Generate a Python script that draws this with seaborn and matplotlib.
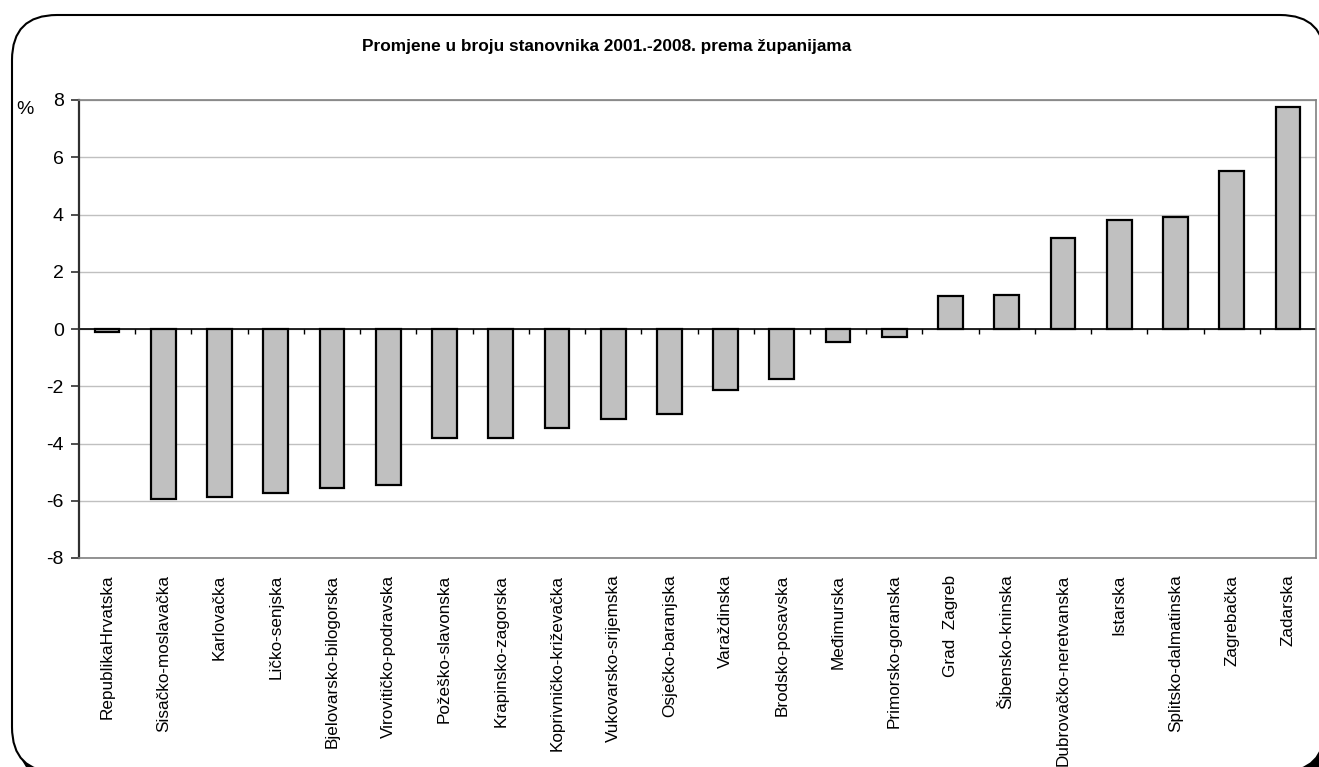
import numpy as np
import pandas as pd
import seaborn as sns
import matplotlib.pyplot as plt
from matplotlib.patches import FancyBboxPatch
from matplotlib.transforms import IdentityTransform

zupanije = ["RepublikaHrvatska", "Sisačko-moslavačka", "Karlovačka", "Ličko-senjska",
            "Bjelovarsko-bilogorska", "Virovitičko-podravska", "Požeško-slavonska",
            "Krapinsko-zagorska", "Koprivničko-križevačka", "Vukovarsko-srijemska",
            "Osječko-baranjska", "Varaždinska", "Brodsko-posavska", "Međimurska",
            "Primorsko-goranska", "Grad  Zagreb", "Šibensko-kninska",
            "Dubrovačko-neretvanska", "Istarska", "Splitsko-dalmatinska",
            "Zagrebačka", "Zadarska"]
promjena = [-0.1, -5.95, -5.87, -5.73, -5.56, -5.45, -3.81, -3.81, -3.46, -3.15,
            -2.97, -2.13, -1.75, -0.45, -0.27, 1.15, 1.2, 3.18, 3.81, 3.93, 5.52, 7.74]
y_ticks = [-8, -6, -4, -2, 0, 2, 4, 6, 8]

df = pd.DataFrame({"zupanija": zupanije, "promjena": promjena})

sns.set_style("white")
plt.rcParams['font.family'] = ['Liberation Sans', 'DejaVu Sans']
plt.rcParams['text.color'] = 'black'
plt.rcParams['xtick.color'] = 'black'
plt.rcParams['ytick.color'] = 'black'
plt.rcParams['axes.unicode_minus'] = False

fig = plt.figure(figsize=(13.19, 7.67), dpi=100)

# rounded outer frame with black shadow
shadow = FancyBboxPatch((18, -14), 1313, 758, boxstyle="round,pad=0,rounding_size=45",
                        transform=IdentityTransform(), facecolor="black", edgecolor="black",
                        zorder=-3)
frame = FancyBboxPatch((12, -5), 1313, 757, boxstyle="round,pad=0,rounding_size=45",
                       transform=IdentityTransform(), facecolor="white", edgecolor="black",
                       linewidth=1.5, zorder=-2)
fig.add_artist(shadow)
fig.add_artist(frame)

ax = fig.add_axes([79 / 1319, 209 / 767, 1237 / 1319, 458 / 767])
ax.set_facecolor("none")

sns.barplot(data=df, x="zupanija", y="promjena", color="#c0c0c0", saturation=1,
            edgecolor="black", linewidth=1.6, width=0.44, ax=ax, zorder=3)

ax.set_xlim(-0.5, len(zupanije) - 0.5)
ax.set_ylim(-8, 8)
ax.set_yticks(y_ticks)
ax.set_xlabel("")
ax.set_ylabel("")
ax.yaxis.grid(True, color="#c0c0c0", linewidth=1)
ax.set_axisbelow(True)

ax.axhline(0, color="black", linewidth=1.2, zorder=2)
# small category ticks sitting on the zero line
ax.vlines(np.arange(len(zupanije) - 1) + 0.5, -0.16, 0, colors="black", linewidth=1, zorder=2)

for s in ["top", "right", "bottom"]:
    ax.spines[s].set_color("#808080")
    ax.spines[s].set_linewidth(1.2)
ax.spines["left"].set_color("#303030")
ax.spines["left"].set_linewidth(1.6)

ax.tick_params(axis="x", length=0, pad=12, labelsize=12.3, rotation=90)
ax.tick_params(axis="y", left=True, length=6, width=1.2, color="#303030", pad=5, labelsize=14)

fig.text(607 / 1319, 1 - 46 / 767, "Promjene u broju stanovnika 2001.-2008. prema županijama",
         ha="center", va="center", fontsize=12.4, fontweight="bold")
fig.text(25 / 1319, 1 - 109 / 767, "%", ha="center", va="center", fontsize=14)

plt.savefig("out.png", dpi=100)
